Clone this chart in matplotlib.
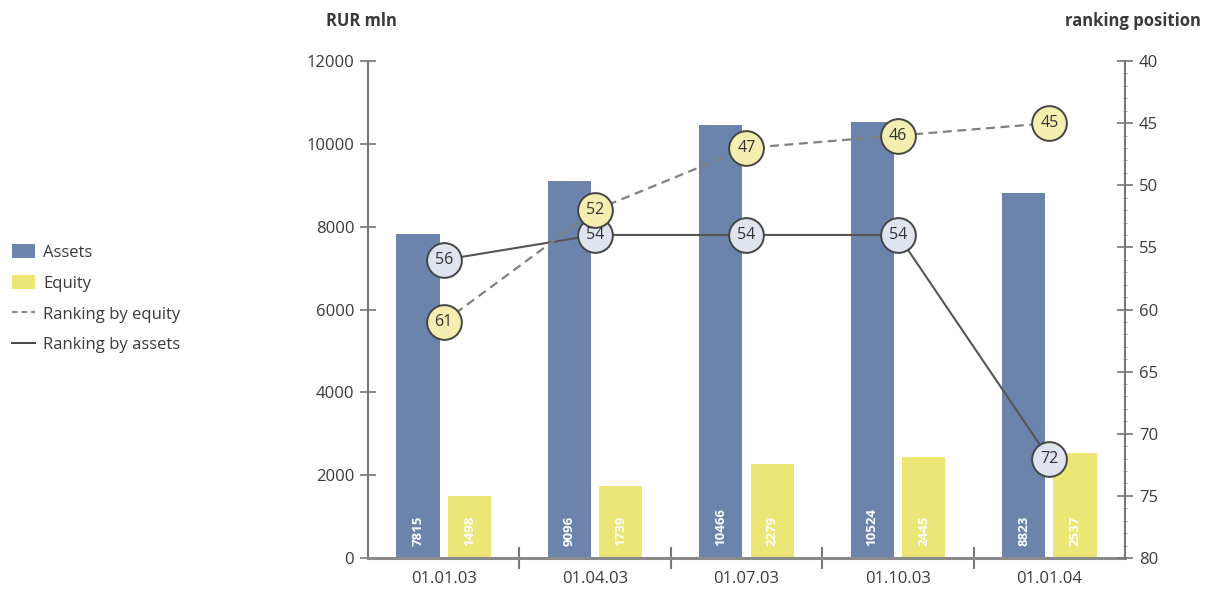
import matplotlib
matplotlib.use("Agg")
import matplotlib.pyplot as plt
from matplotlib.patches import Patch
from matplotlib.lines import Line2D
import numpy as np

# Data
dates = ["01.01.03", "01.04.03", "01.07.03", "01.10.03", "01.01.04"]
assets = [7815, 9096, 10466, 10524, 8823]
equity = [1498, 1739, 2279, 2445, 2537]
rank_equity = [61, 52, 47, 46, 45]
rank_assets = [56, 54, 54, 54, 72]

c_assets = "#6c84ac"
c_equity = "#ece676"
c_axis = "#777777"
c_text = "#3a3a3a"

plt.rcParams["font.family"] = ["Open Sans", "DejaVu Sans"]

fig = plt.figure(figsize=(12.09, 5.89), dpi=100)
ax = fig.add_axes([0.3044, 0.0526, 0.6261, 0.8438])
ax2 = ax.twinx()

x = np.arange(len(dates))
off = 0.17
w = 0.285
ax.bar(x - off, assets, width=w, color=c_assets, zorder=2)
ax.bar(x + off, equity, width=w, color=c_equity, zorder=2)
for xi, a, e in zip(x, assets, equity):
    ax.text(xi - off, 280, f"{a}", rotation=90, ha="center", va="bottom",
            color="white", fontsize=9.5, fontweight="bold", zorder=3)
    ax.text(xi + off, 280, f"{e}", rotation=90, ha="center", va="bottom",
            color="white", fontsize=9.5, fontweight="bold", zorder=3)

ax.set_xlim(-0.5, len(dates) - 0.5)
ax.set_ylim(0, 12000)
ax.set_yticks(np.arange(0, 12001, 2000))
ax.set_xticks(x)
ax.set_xticklabels(dates)
ax.set_xticks(np.arange(0.5, len(dates) - 0.5, 1.0), minor=True)
ax.tick_params(axis="x", which="major", length=0, labelsize=12,
               labelcolor=c_text, pad=9)
ax.tick_params(axis="x", which="minor", length=16, width=1.5,
               color=c_axis, direction="inout")
ax.tick_params(axis="y", length=12, width=1.2, color=c_axis,
               direction="inout", labelsize=12, labelcolor=c_text, pad=4)

for s in ["top", "right"]:
    ax.spines[s].set_visible(False)
ax.spines["left"].set_color(c_axis)
ax.spines["left"].set_linewidth(1.5)
ax.spines["bottom"].set_color("#8a8a8a")
ax.spines["bottom"].set_linewidth(2.2)

# Ranking axis (inverted)
ax2.set_ylim(80, 40)
ax2.set_yticks(np.arange(40, 81, 5))
ax2.set_yticks(np.arange(40, 81, 1), minor=True)
ax2.tick_params(axis="y", which="major", length=12, width=1.2, color=c_axis,
                direction="inout", labelsize=12, labelcolor=c_text, pad=4)
ax2.tick_params(axis="y", which="minor", length=3, width=0.7, color="#999999",
                direction="inout")
for s in ["top", "left", "bottom"]:
    ax2.spines[s].set_visible(False)
ax2.spines["right"].set_color(c_axis)
ax2.spines["right"].set_linewidth(1.5)

ax2.plot(x, rank_assets, color="#555555", lw=1.5, zorder=4)
ax2.plot(x, rank_equity, color="#808080", lw=1.6, ls=(0, (4, 2.5)), zorder=4)
for xi, r in zip(x, rank_assets):
    ax2.plot(xi, r, "o", ms=25, mfc="#dfe4ee", mec="#444444", mew=1.4, zorder=5)
    ax2.text(xi, r, f"{r}", ha="center", va="center", fontsize=11.5,
             color="#333333", zorder=6)
for xi, r in zip(x, rank_equity):
    ax2.plot(xi, r, "o", ms=25, mfc="#f4efb0", mec="#444444", mew=1.4, zorder=5)
    ax2.text(xi, r, f"{r}", ha="center", va="center", fontsize=11.5,
             color="#333333", zorder=6)

fig.text(0.299, 0.965, "RUR mln", ha="center", va="center", fontsize=12,
         fontweight="bold", color="#3a3a3a")
fig.text(0.993, 0.965, "ranking position", ha="right", va="center",
         fontsize=12, fontweight="bold", color="#3a3a3a")

handles = [
    Patch(facecolor=c_assets, edgecolor="none"),
    Patch(facecolor=c_equity, edgecolor="none"),
    Line2D([0], [0], color="#8a8a8a", lw=1.6, ls=(0, (2.5, 1.8))),
    Line2D([0], [0], color="#444444", lw=1.4),
]
labels = ["Assets", "Equity", "Ranking by equity", "Ranking by assets"]
fig.legend(handles, labels, loc="upper left", bbox_to_anchor=(0.0, 0.605),
           frameon=False, fontsize=12, handlelength=1.4, handleheight=0.9,
           handletextpad=0.5, labelspacing=0.85, labelcolor="#3a3a3a",
           borderaxespad=0.3)

fig.savefig("out.png", dpi=100, facecolor="white")
